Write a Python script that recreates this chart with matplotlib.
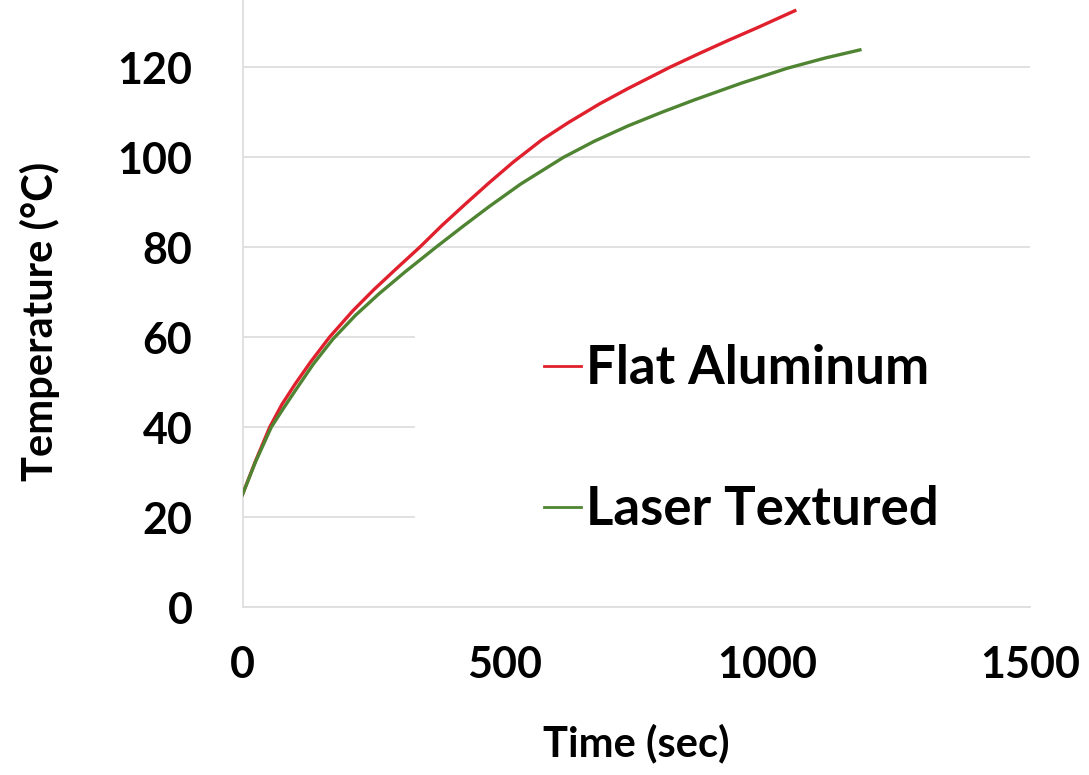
import matplotlib
matplotlib.use('Agg')
import matplotlib.pyplot as plt
from matplotlib.patches import Rectangle

# values
flat_time = [0, 25, 52, 75, 100, 130, 166, 210, 250, 295, 338, 380, 425, 470, 515,
             570, 620, 680, 734, 815, 870, 923, 980, 1052]
flat_temp = [25, 32.5, 40, 45, 49.5, 54.5, 60, 65.8, 70.5, 75.4, 80, 84.8, 89.6, 94.3, 98.8,
             103.8, 107.6, 111.8, 115.2, 120, 123, 125.8, 128.7, 132.5]

laser_time = [0, 25, 55, 80, 100, 135, 172, 215, 260, 310, 368, 420, 470, 530, 611,
              670, 734, 800, 861, 950, 1037, 1110, 1176]
laser_temp = [25, 32.3, 40, 44.5, 48, 54, 59.5, 64.8, 69.6, 74.5, 79.9, 84.6, 89, 94, 99.9,
              103.5, 106.9, 110, 112.7, 116.4, 119.7, 122, 123.8]

x_ticks = [0, 500, 1000, 1500]
y_ticks = [0, 20, 40, 60, 80, 100, 120]

plt.rcParams['font.family'] = ['Lato', 'DejaVu Sans']

fig = plt.figure(figsize=(10.89, 7.75), dpi=100)
ax = fig.add_axes([242.5 / 1089, 1 - 607 / 775, (1030 - 242.5) / 1089, 607 / 775])

ax.plot(flat_time, flat_temp, color='#e0202c', lw=2.4, label='Flat Aluminum', zorder=3)
ax.plot(laser_time, laser_temp, color='#4f8532', lw=2.4, label='Laser Textured', zorder=3)

ax.set_xlim(0, 1500)
ax.set_ylim(0, 607 / 4.5)
ax.set_xticks(x_ticks)
ax.set_yticks(y_ticks)
ax.grid(axis='y', color='#dedede', lw=1.3)
ax.set_axisbelow(True)

for side in ['top', 'right']:
    ax.spines[side].set_visible(False)
for side in ['left', 'bottom']:
    ax.spines[side].set_color('#dedede')
    ax.spines[side].set_linewidth(1.3)

ax.tick_params(length=0, labelsize=31)
ax.tick_params(axis='x', pad=27)
ax.tick_params(axis='y', pad=36)
for lab in ax.get_xticklabels() + ax.get_yticklabels():
    lab.set_fontweight('bold')

# white box behind the legend hides the lower gridlines
ax.add_patch(Rectangle((0.219, 0.012), 0.79, 0.49, transform=ax.transAxes,
                       facecolor='white', edgecolor='none', zorder=1))

ax.set_xlabel('Time (sec)', fontsize=30, fontweight='bold', labelpad=28)
ax.set_ylabel('Temperature (°C)', fontsize=30, fontweight='bold')
ax.yaxis.set_label_coords(-0.232, 0.47)

leg = fig.legend(loc='upper left', bbox_to_anchor=(0.4995, 0.556), frameon=False,
                 fontsize=38, handlelength=0.7, handletextpad=0.1, labelspacing=1.75,
                 borderpad=0, borderaxespad=0)
for t in leg.get_texts():
    t.set_fontweight('bold')
for h in leg.legend_handles:
    h.set_linewidth(2.0)

fig.savefig('out.png', dpi=100, facecolor='white')
